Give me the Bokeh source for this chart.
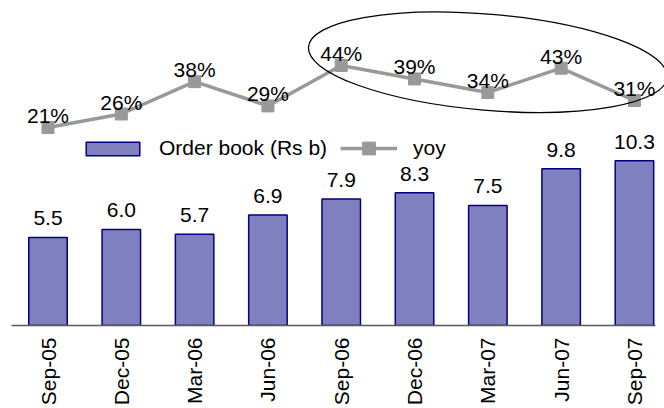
import math
from bokeh.plotting import figure
from bokeh.models import Range1d, FixedTicker, Legend, LegendItem, ColumnDataSource
from bokeh.core.properties import value
from bokeh.embed import file_html
from bokeh.resources import INLINE

# ---- data ----
periods = ["Sep-05", "Dec-05", "Mar-06", "Jun-06", "Sep-06", "Dec-06", "Mar-07", "Jun-07", "Sep-07"]
order_book = [5.5, 6.0, 5.7, 6.9, 7.9, 8.3, 7.5, 9.8, 10.3]
yoy = [21, 26, 38, 29, 44, 39, 34, 43, 31]
bar_label = "Order book (Rs b)"
line_label = "yoy"
highlight_first, highlight_last = 4, 8   # periods circled in the chart

FONT = "Liberation Sans"
FS = "21px"

xs = list(range(len(periods)))
src = ColumnDataSource(dict(
    x=xs, ob=order_book, yoy=yoy,
    ob_lbl=[f"{v:.1f}" for v in order_book],
    yoy_lbl=[f"{v}%" for v in yoy],
))

p = figure(width=664, height=408,
           x_range=Range1d(-0.648, 8.41), y_range=Range1d(0, 20.31),
           output_backend="svg", toolbar_location=None, min_border=0,
           y_axis_location=None)
p.extra_y_ranges = {"yoy": Range1d(-52.45, 68.1)}
p.outline_line_color = None
p.grid.visible = False
p.background_fill_color = "white"
p.border_fill_color = "white"

bars = p.vbar(x="x", top="ob", width=0.525, source=src,
              fill_color="#8080C0", line_color="#000080", line_width=1.5)
line = p.line("x", "yoy", source=src, y_range_name="yoy",
              line_color="#999999", line_width=3.5)
marks = p.scatter("x", "yoy", source=src, y_range_name="yoy", marker="square",
                  size=12, fill_color="#999999", line_color="#999999")

p.text(x="x", y="ob", text="ob_lbl", source=src, text_align="center",
       text_baseline="alphabetic", y_offset=-19,
       text_font=value(FONT), text_font_size=FS, text_color="black")
p.text(x="x", y="yoy", text="yoy_lbl", source=src, y_range_name="yoy",
       text_align="center", text_baseline="alphabetic", y_offset=-12,
       text_font=value(FONT), text_font_size=FS, text_color="black")

# ellipse around the highlighted periods
sel = yoy[highlight_first:highlight_last + 1]
p.ellipse(x=[(highlight_first + highlight_last) / 2], y=[sum(sel) / len(sel) + 7],
          width=[360], height=[96], angle=-0.085,
          width_units="screen", height_units="screen",
          fill_color=None, line_color="black", line_width=1.3, y_range_name="yoy")

ax = p.xaxis[0]
ax.ticker = FixedTicker(ticks=xs)
ax.major_label_overrides = {i: lab for i, lab in zip(xs, periods)}
ax.major_label_orientation = math.pi / 2
ax.bounds = (-0.5, 8.29)
ax.axis_line_color = "#595959"
ax.axis_line_width = 1.5
ax.major_tick_line_color = None
ax.minor_tick_line_color = None
ax.major_tick_in = 0
ax.major_tick_out = 0
ax.major_label_standoff = 12
ax.major_label_text_font = FONT
ax.major_label_text_font_size = FS
ax.major_label_text_color = "black"

common = dict(orientation="horizontal", padding=0, margin=0, spacing=0,
              border_line_color=None, background_fill_alpha=0,
              label_text_font=FONT, label_text_font_size=FS,
              label_text_color="black")
legA = Legend(items=[LegendItem(label=bar_label, renderers=[bars])],
              location=(79, 165), glyph_width=67, glyph_height=17,
              label_standoff=13, **common)
legB = Legend(items=[LegendItem(label=line_label, renderers=[line, marks])],
              location=(340, 161), glyph_width=57, glyph_height=32,
              label_standoff=16, **common)
p.add_layout(legA, "center")
p.add_layout(legB, "center")

open("out.html", "w").write(file_html(p, INLINE))
